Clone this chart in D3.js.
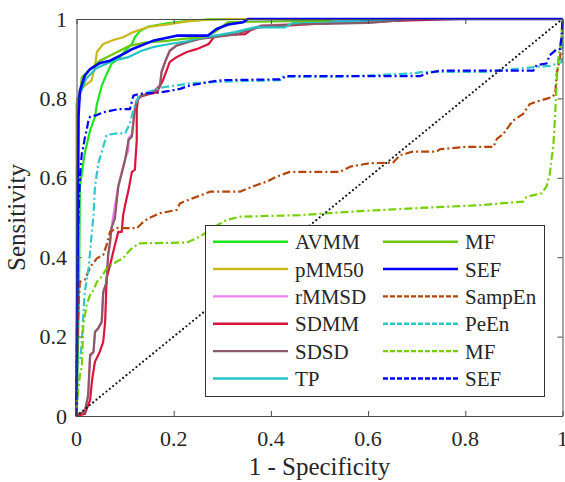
<!DOCTYPE html>
<html>
<head>
<meta charset="utf-8">
<script src="https://cdn.jsdelivr.net/npm/d3@7"></script>
</head>
<body style="margin:0;background:#fff">
<svg id="chart" width="565" height="482" font-family="'Liberation Serif'" style="font-family:'Liberation Serif'"></svg>
<script>
// ROC curves: each series is a list of [1 - specificity, sensitivity] points
const AVMM = [[0,0],[0.005,0.29],[0.007,0.577],[0.017,0.662],[0.028,0.72],[0.038,0.753],[0.042,0.786],[0.052,0.832],[0.062,0.861],[0.072,0.887],[0.09,0.904],[0.1,0.92],[0.114,0.937],[0.12,0.954],[0.131,0.97],[0.148,0.981],[0.186,0.989],[0.22,0.994],[0.275,0.999],[0.336,1],[1,1]];
const pMM50 = [[0,0],[0,0.786],[0.007,0.819],[0.017,0.832],[0.031,0.845],[0.038,0.88],[0.042,0.917],[0.055,0.937],[0.076,0.947],[0.096,0.954],[0.117,0.967],[0.151,0.981],[0.192,0.987],[0.227,0.994],[0.254,0.997],[0.316,1],[1,1]];
const rMMSD = [[0,0],[0.017,0.008],[0.024,0.05],[0.028,0.15],[0.035,0.16],[0.038,0.21],[0.045,0.22],[0.052,0.236],[0.055,0.31],[0.062,0.335],[0.065,0.4],[0.069,0.435],[0.072,0.47],[0.075,0.5],[0.086,0.58],[0.093,0.615],[0.1,0.648],[0.107,0.67],[0.107,0.7],[0.114,0.71],[0.12,0.775],[0.124,0.796],[0.134,0.808],[0.158,0.816],[0.172,0.835],[0.175,0.868],[0.182,0.892],[0.192,0.921],[0.206,0.934],[0.227,0.942],[0.254,0.951],[0.332,0.963],[0.371,0.98],[0.381,0.984],[0.47,0.988],[0.6,0.991],[0.7,1],[1,1]];
const SDMM = [[0,0],[0.017,0.005],[0.028,0.04],[0.032,0.09],[0.038,0.137],[0.048,0.162],[0.055,0.187],[0.059,0.238],[0.062,0.348],[0.069,0.38],[0.079,0.431],[0.086,0.464],[0.093,0.464],[0.096,0.506],[0.1,0.531],[0.107,0.569],[0.114,0.615],[0.12,0.62],[0.124,0.695],[0.124,0.771],[0.127,0.803],[0.151,0.811],[0.165,0.815],[0.178,0.846],[0.192,0.892],[0.206,0.904],[0.227,0.917],[0.247,0.924],[0.272,0.937],[0.285,0.958],[0.347,0.962],[0.357,0.971],[0.373,0.979],[0.505,0.989],[0.666,0.996],[0.79,1],[1,1]];
const SDSD = [[0,0.003],[0.017,0.011],[0.024,0.053],[0.028,0.154],[0.035,0.162],[0.038,0.212],[0.045,0.222],[0.052,0.238],[0.055,0.313],[0.062,0.338],[0.065,0.406],[0.069,0.439],[0.072,0.474],[0.079,0.498],[0.086,0.578],[0.093,0.611],[0.1,0.645],[0.107,0.695],[0.114,0.704],[0.12,0.771],[0.124,0.794],[0.134,0.807],[0.158,0.815],[0.172,0.832],[0.175,0.866],[0.182,0.891],[0.192,0.92],[0.206,0.933],[0.227,0.941],[0.254,0.95],[0.332,0.962],[0.371,0.979],[0.381,0.983],[0.47,0.987],[0.6,0.99],[0.707,1],[1,1]];
const TP = [[0,0],[0.004,0.8],[0.02,0.85],[0.04,0.875],[0.052,0.882],[0.076,0.895],[0.107,0.904],[0.134,0.92],[0.157,0.929],[0.192,0.937],[0.227,0.944],[0.244,0.95],[0.285,0.958],[0.326,0.967],[0.354,0.975],[0.367,0.979],[0.429,0.979],[0.443,0.989],[0.463,0.992],[0.583,0.995],[0.666,1],[1,1]];
const MF = [[0,0],[0.004,0.78],[0.011,0.854],[0.048,0.895],[0.076,0.912],[0.11,0.933],[0.144,0.941],[0.186,0.945],[0.219,0.95],[0.264,0.955],[0.285,0.967],[0.299,0.98],[0.312,0.992],[0.515,0.996],[0.532,1],[1,1]];
const SEF = [[0,0],[0.004,0.753],[0.007,0.819],[0.017,0.857],[0.028,0.874],[0.048,0.889],[0.069,0.895],[0.1,0.914],[0.114,0.924],[0.157,0.945],[0.206,0.958],[0.27,0.958],[0.288,0.975],[0.312,0.986],[0.343,0.992],[0.353,1],[1,1]];
const SampEn = [[0,0],[0.002,0.2],[0.005,0.3],[0.007,0.338],[0.017,0.343],[0.024,0.363],[0.031,0.38],[0.042,0.397],[0.055,0.406],[0.062,0.431],[0.069,0.464],[0.083,0.473],[0.124,0.473],[0.134,0.485],[0.148,0.498],[0.172,0.511],[0.206,0.519],[0.213,0.536],[0.247,0.552],[0.275,0.565],[0.336,0.565],[0.371,0.582],[0.391,0.59],[0.412,0.603],[0.439,0.615],[0.542,0.615],[0.563,0.628],[0.604,0.637],[0.651,0.638],[0.666,0.657],[0.692,0.666],[0.741,0.666],[0.748,0.672],[0.803,0.678],[0.858,0.678],[0.865,0.698],[0.878,0.71],[0.898,0.744],[0.919,0.761],[0.933,0.786],[0.95,0.793],[0.978,0.803],[0.985,0.811],[0.988,0.861],[0.995,0.904],[1,0.962],[1,1]];
const PeEn = [[0,0],[0.002,0.05],[0.001,0.134],[0.007,0.137],[0.011,0.187],[0.014,0.254],[0.017,0.313],[0.024,0.363],[0.028,0.414],[0.031,0.456],[0.035,0.506],[0.038,0.578],[0.045,0.637],[0.055,0.678],[0.062,0.708],[0.083,0.712],[0.1,0.712],[0.11,0.737],[0.117,0.771],[0.124,0.794],[0.131,0.811],[0.144,0.815],[0.179,0.828],[0.234,0.838],[0.301,0.842],[0.419,0.846],[0.425,0.855],[0.55,0.855],[0.692,0.863],[0.713,0.867],[0.843,0.867],[0.954,0.88],[0.974,0.882],[0.998,0.891],[1,0.933],[1,1]];
const MF2 = [[0,0.008],[0.001,0.036],[0.007,0.103],[0.011,0.124],[0.014,0.229],[0.021,0.28],[0.028,0.305],[0.035,0.317],[0.042,0.338],[0.052,0.351],[0.062,0.372],[0.083,0.389],[0.096,0.397],[0.107,0.414],[0.117,0.426],[0.131,0.435],[0.227,0.437],[0.247,0.448],[0.254,0.452],[0.281,0.474],[0.309,0.494],[0.336,0.502],[0.46,0.506],[0.583,0.516],[0.707,0.524],[0.83,0.531],[0.878,0.536],[0.919,0.54],[0.926,0.552],[0.957,0.561],[0.967,0.578],[0.974,0.611],[0.978,0.653],[0.981,0.677],[0.985,0.761],[0.988,0.845],[0.991,0.895],[0.995,0.929],[0.998,0.962],[1,0.996],[1,1]];
const SEF2 = [[0,0],[0.002,0.4],[0.004,0.5],[0.007,0.603],[0.011,0.662],[0.014,0.678],[0.017,0.7],[0.021,0.72],[0.024,0.741],[0.028,0.754],[0.042,0.758],[0.055,0.765],[0.086,0.773],[0.11,0.773],[0.117,0.807],[0.127,0.811],[0.144,0.813],[0.172,0.815],[0.192,0.819],[0.213,0.824],[0.234,0.833],[0.254,0.837],[0.275,0.842],[0.302,0.846],[0.419,0.848],[0.432,0.856],[0.707,0.856],[0.721,0.863],[0.748,0.87],[0.94,0.87],[0.947,0.884],[0.967,0.888],[0.974,0.909],[0.988,0.924],[0.995,0.924],[0.998,0.955],[1,0.997],[1,1]];
const chance = [[0,0],[1,1]];

const seriesNames = ["AVMM","pMM50","rMMSD","SDMM","SDSD","TP","MF","SEF","SampEn","PeEn","MF","SEF"];
const seriesData = [AVMM, pMM50, rMMSD, SDMM, SDSD, TP, MF, SEF, SampEn, PeEn, MF2, SEF2];
const tickValues = [0, 0.2, 0.4, 0.6, 0.8, 1];
const tickLabels = ["0", "0.2", "0.4", "0.6", "0.8", "1"];

// Line styles, in the same order as the series
const colors = ["#1ee61e","#c9b81a","#ee82ee","#dc143c","#8b5a64","#22c4c4","#6cc80a","#0000ff","#b4460a","#2ec8c8","#74d000","#0000ff"];
const dashed = [false,false,false,false,false,false,false,false,true,true,true,true];
const dashPattern = "8,3,2,3";
const FONT = "'Liberation Serif'";
const INK = "#262626";

// Every text gets its font both as attribute and as inline style
function serifText(sel, size) {
  return sel.attr("font-family", FONT).attr("font-size", size)
    .style("font-family", FONT).style("font-size", size + "px")
    .attr("fill", INK);
}

const svg = d3.select("#chart");
const x = d3.scaleLinear().domain([0, 1]).range([76.5, 562.5]);
const y = d3.scaleLinear().domain([0, 1]).range([416, 19]);

const line = d3.line().x(d => x(d[0])).y(d => y(d[1]));

// Curves
const curves = svg.append("g");
seriesData.forEach((pts, i) => {
  curves.append("path")
    .datum(pts)
    .attr("d", line)
    .attr("fill", "none")
    .attr("stroke", colors[i])
    .attr("stroke-width", i === 7 ? 2.6 : 2.2)
    .attr("stroke-linejoin", "round")
    .attr("stroke-dasharray", dashed[i] ? dashPattern : null);
});

// Chance line
svg.append("path")
  .datum(chance)
  .attr("d", line)
  .attr("fill", "none")
  .attr("stroke", "#111")
  .attr("stroke-width", 2.2)
  .attr("stroke-linecap", "round")
  .attr("stroke-dasharray", "0,4.3");

// Frame ticks: inward on all four sides, labels on bottom and left
const frameColor = "#4a4a4a";
function frame(g) {
  g.attr("font-family", null).attr("font-size", null);
  g.select(".domain").attr("stroke", frameColor).attr("stroke-width", 1);
  g.selectAll(".tick line").attr("stroke", frameColor);
  g.selectAll(".tick text").remove();
}
svg.append("g").attr("transform", "translate(0,416)")
  .call(d3.axisBottom(x).tickValues(tickValues).tickSizeInner(-5).tickSizeOuter(0)).call(frame);
svg.append("g").attr("transform", "translate(76.5,0)")
  .call(d3.axisLeft(y).tickValues(tickValues).tickSizeInner(-5).tickSizeOuter(0)).call(frame);
svg.append("g").attr("transform", "translate(0,19)")
  .call(d3.axisTop(x).tickValues(tickValues).tickSizeInner(-5).tickSizeOuter(0)).call(frame);
svg.append("g").attr("transform", "translate(562.5,0)")
  .call(d3.axisRight(y).tickValues(tickValues).tickSizeInner(-5).tickSizeOuter(0)).call(frame);

// Tick labels
tickValues.forEach((v, i) => {
  serifText(svg.append("text"), 22)
    .attr("x", x(v)).attr("y", 446)
    .attr("text-anchor", "middle")
    .text(tickLabels[i]);
  serifText(svg.append("text"), 22)
    .attr("x", 67).attr("y", y(v) + 7.5)
    .attr("text-anchor", "end")
    .text(tickLabels[i]);
});

// Axis titles
serifText(svg.append("text"), 25)
  .attr("x", (x(0) + x(1)) / 2).attr("y", 475)
  .attr("text-anchor", "middle")
  .text("1 - Specificity");
serifText(svg.append("text"), 25)
  .attr("transform", `translate(25,${(y(0) + y(1)) / 2}) rotate(-90)`)
  .attr("text-anchor", "middle")
  .text("Sensitivity");

// Legend: two columns of six entries
svg.append("rect")
  .attr("x", 205.5).attr("y", 225.5).attr("width", 339).attr("height", 171)
  .attr("fill", "#fff").attr("stroke", "#333").attr("stroke-width", 1);
seriesNames.forEach((name, i) => {
  const col = Math.floor(i / 6), row = i % 6;
  const lx = col === 0 ? 213 : 383;
  const ly = 241.7 + row * 27.35;
  svg.append("line")
    .attr("x1", lx).attr("x2", lx + 75).attr("y1", ly).attr("y2", ly)
    .attr("stroke", colors[i]).attr("stroke-width", 2.4)
    .attr("stroke-dasharray", dashed[i] ? "5,2" : null);
  serifText(svg.append("text"), 21)
    .attr("x", lx + 82).attr("y", ly + 7.5)
    .text(name);
});
</script>
</body>
</html>
